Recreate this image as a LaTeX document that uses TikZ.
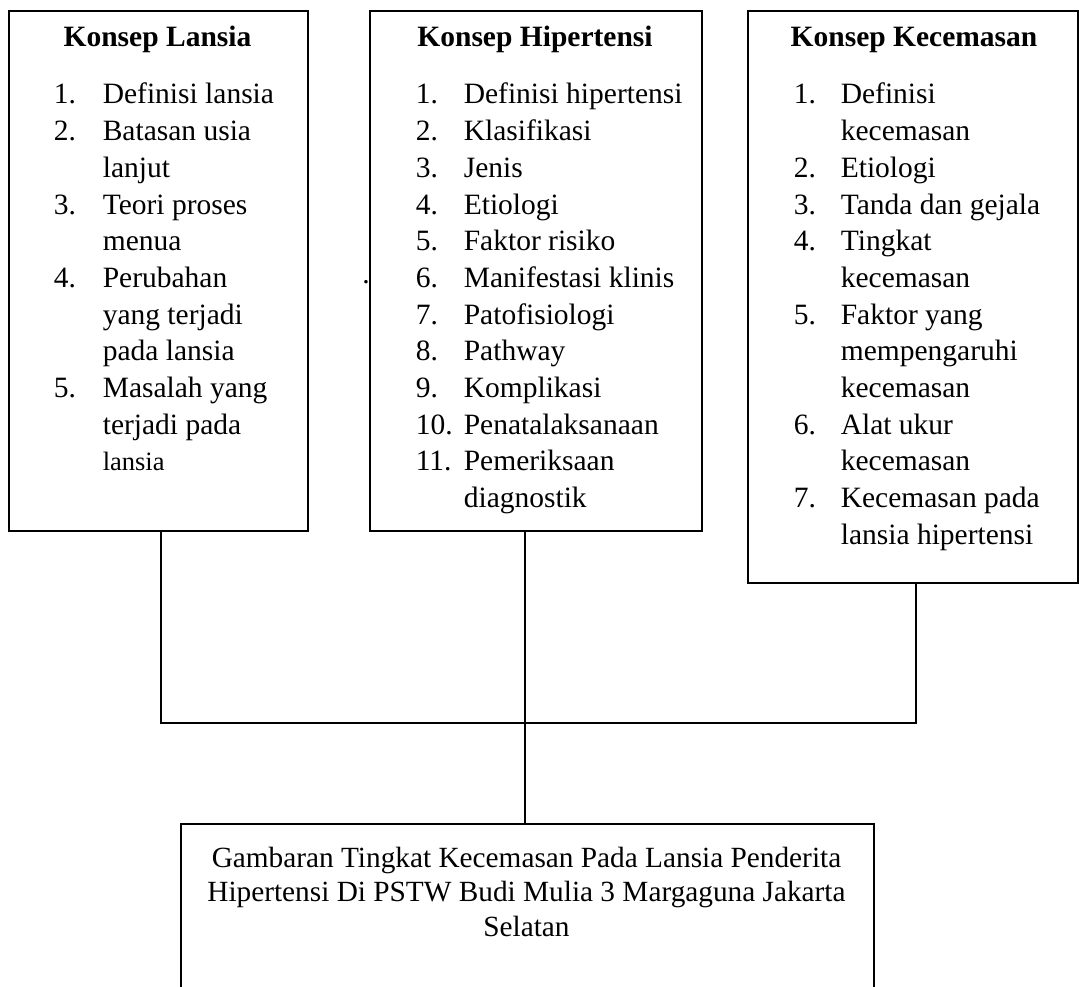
\documentclass[tikz,border=0pt]{standalone}
\usepackage{fontspec}
\setmainfont{Liberation Serif}
\begin{document}
\begin{tikzpicture}[x=1pt, y=-1pt, line width=1.6pt,
	box/.style={draw, rectangle, inner sep=0pt, anchor=north west},
	head/.style={font=\fontsize{29.5}{36.7}\selectfont\bfseries, anchor=base, inner sep=0pt},
	list/.style={font=\fontsize{29.5}{36.7}\selectfont, anchor=base west, inner sep=0pt}]

		\useasboundingbox (0,0) rectangle (1079,987);

		% Define the nodes
		\node[box, minimum width=299pt, minimum height=520pt] (lansia) at (8,10) {};
		\node[box, minimum width=332pt, minimum height=520pt] (hipertensi) at (369,10) {};
		\node[box, minimum width=330pt, minimum height=572pt] (kecemasan) at (747,10) {};
		\node[box, minimum width=693pt, minimum height=190pt] (judul) at (180,823) {};

		% Titles of the boxes
		\node[head] (lansia_title) at (157.5,47) {Konsep Lansia};
		\node[head] (hipertensi_title) at (535,47) {Konsep Hipertensi};
		\node[head] (kecemasan_title) at (914,47) {Konsep Kecemasan};

		% Lists
		\node[list] (lansia_list) at (53,104) {\begin{tabular}[t]{@{}p{49pt}@{}l@{}}
			1. & Definisi lansia\\
			2. & Batasan usia\\
			   & lanjut\\
			3. & Teori proses\\
			   & menua\\
			4. & Perubahan\\
			   & yang terjadi\\
			   & pada lansia\\
			5. & Masalah yang\\
			   & terjadi pada\\
			   & {\fontsize{26.5}{30}\selectfont lansia}
		\end{tabular}};
		\node[list] (hipertensi_list) at (415,104) {\begin{tabular}[t]{@{}p{48pt}@{}l@{}}
			1. & Definisi hipertensi\\
			2. & Klasifikasi\\
			3. & Jenis\\
			4. & Etiologi\\
			5. & Faktor risiko\\
			6. & Manifestasi klinis\\
			7. & Patofisiologi\\
			8. & Pathway\\
			9. & Komplikasi\\
			10. & Penatalaksanaan\\
			11. & Pemeriksaan\\
			    & diagnostik
		\end{tabular}};
		\node[list] (kecemasan_list) at (793,104) {\begin{tabular}[t]{@{}p{47pt}@{}l@{}}
			1. & Definisi\\
			   & kecemasan\\
			2. & Etiologi\\
			3. & Tanda dan gejala\\
			4. & Tingkat\\
			   & kecemasan\\
			5. & Faktor yang\\
			   & mempengaruhi\\
			   & kecemasan\\
			6. & Alat ukur\\
			   & kecemasan\\
			7. & Kecemasan pada\\
			   & lansia hipertensi
		\end{tabular}};
		\node[list, anchor=base] (judul_text) at (526.5,867) {\fontsize{29.3}{34.5}\selectfont\begin{tabular}[t]{@{}c@{}}
			Gambaran Tingkat Kecemasan Pada Lansia Penderita\\
			Hipertensi Di PSTW Budi Mulia 3 Margaguna Jakarta\\
			Selatan
		\end{tabular}};
		\node[list, anchor=center] (stray) at (366,282) {.};

		% Define the edges
		\coordinate (jl) at (161,723);
		\coordinate (jh) at (525,723);
		\coordinate (jk) at (916,723);
		\draw (lansia.south -| jl) -- (jl) -- (jk) -- (kecemasan.south -| jk);
		\draw (hipertensi.south -| jh) -- (judul.north -| jh);

	\end{tikzpicture}
\end{document}
